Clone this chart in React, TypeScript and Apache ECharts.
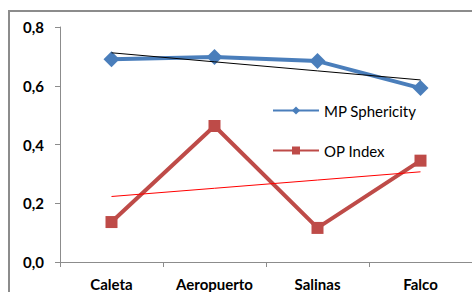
import React, { useEffect, useRef } from "react";
import * as echarts from "echarts";

const categories = ["Caleta", "Aeropuerto", "Salinas", "Falco"];
const mpSphericity = [0.69, 0.698, 0.684, 0.592];
const opIndex = [0.136, 0.463, 0.116, 0.345];
const yTicks = [0, 0.2, 0.4, 0.6, 0.8];

function trend(vals: number[]): number[] {
  const n = vals.length;
  const xs = vals.map((_, i) => i + 1);
  const mx = xs.reduce((a, b) => a + b, 0) / n;
  const my = vals.reduce((a, b) => a + b, 0) / n;
  let num = 0;
  let den = 0;
  for (let i = 0; i < n; i++) {
    num += (xs[i] - mx) * (vals[i] - my);
    den += (xs[i] - mx) * (xs[i] - mx);
  }
  const slope = num / den;
  return xs.map((x) => my + slope * (x - mx));
}

export default function App() {
  const ref = useRef<HTMLDivElement>(null);
  useEffect(() => {
    document.body.style.margin = "0";
    if (!ref.current) return;
    const chart = echarts.init(ref.current, null, { renderer: "svg" });
    const font = "Lato, 'Noto Sans', sans-serif";
    chart.setOption({
      animation: false,
      backgroundColor: "#ffffff",
      textStyle: { fontFamily: font },
      graphic: [
        {
          type: "rect",
          shape: { x: 9, y: 11, width: 480, height: 300 },
          style: { fill: "none", stroke: "#8c8c8c", lineWidth: 2 },
          silent: true,
        },
      ],
      grid: { left: 60, top: 27, right: 0, bottom: 30 },
      legend: {
        data: ["MP Sphericity", "OP Index"],
        orient: "vertical",
        left: 267,
        top: 98,
        itemWidth: 46,
        itemHeight: 10,
        itemGap: 25,
        textStyle: { fontSize: 15, color: "#000", fontFamily: font },
      },
      xAxis: {
        type: "category",
        data: categories,
        boundaryGap: true,
        axisLine: { lineStyle: { color: "#8c8c8c", width: 1 } },
        axisTick: { show: true, length: 5, alignWithLabel: false, lineStyle: { color: "#8c8c8c" } },
        axisLabel: { interval: 0, fontSize: 15, fontWeight: "bold", color: "#000", margin: 14, fontFamily: font },
        splitLine: { show: false },
      },
      yAxis: {
        type: "value",
        min: yTicks[0],
        max: yTicks[yTicks.length - 1],
        interval: 0.2,
        axisLine: { show: true, lineStyle: { color: "#8c8c8c", width: 1 } },
        axisTick: { show: true, length: 5, lineStyle: { color: "#8c8c8c" } },
        axisLabel: {
          fontSize: 15,
          fontWeight: "bold",
          color: "#000",
          margin: 16,
          fontFamily: font,
          formatter: (v: number) => v.toFixed(1).replace(".", ","),
        },
        splitLine: { show: false },
      },
      series: [
        {
          name: "MP Sphericity",
          type: "line",
          data: mpSphericity,
          symbol: "diamond",
          symbolSize: 16,
          lineStyle: { color: "#4a7ebb", width: 4 },
          itemStyle: { color: "#4a7ebb" },
          z: 3,
        },
        {
          name: "OP Index",
          type: "line",
          data: opIndex,
          symbol: "rect",
          symbolSize: 12,
          lineStyle: { color: "#be4b48", width: 4 },
          itemStyle: { color: "#be4b48" },
          z: 3,
        },
        {
          name: "MP trend",
          type: "line",
          data: trend(mpSphericity),
          symbol: "none",
          lineStyle: { color: "#000000", width: 1 },
          z: 4,
        },
        {
          name: "OP trend",
          type: "line",
          data: trend(opIndex),
          symbol: "none",
          lineStyle: { color: "#ff0000", width: 1 },
          z: 4,
        },
      ],
    });
    return () => chart.dispose();
  }, []);
  return <div ref={ref} style={{ width: 472, height: 292 }} />;
}
